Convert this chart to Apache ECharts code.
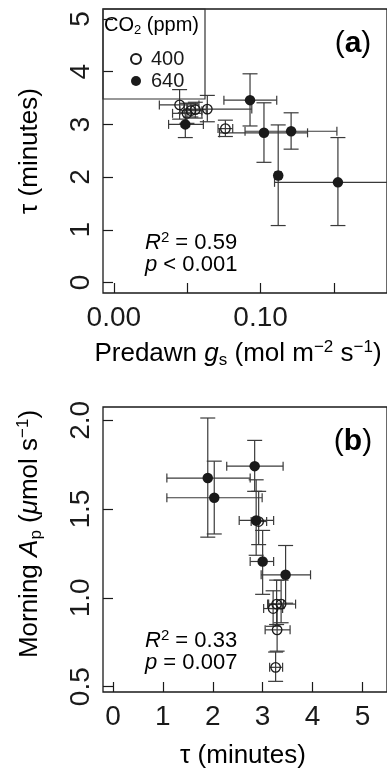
<!DOCTYPE html>
<html>
<head>
<meta charset="utf-8">
<script src="https://cdn.jsdelivr.net/npm/echarts@6/dist/echarts.min.js"></script>
<style>
  html, body { margin: 0; padding: 0; background: #fff; }
  #chart { width: 387px; height: 774px; }
</style>
</head>
<body>
<div id="chart"></div>
<script>
// ---------- data ----------
// CO2 = 400 ppm (open circles)
const open_gs      = [0.0448, 0.0498, 0.0525, 0.0555, 0.0637, 0.0760];
const open_gsLo    = [0.031, 0.040, 0.045, 0.048, 0.050, 0.071];
const open_gsHi    = [0.058, 0.060, 0.060, 0.063, 0.094, 0.081];
const open_tau     = [3.37, 3.21, 3.26, 3.28, 3.29, 2.92];
const open_tauLo   = [3.10, 3.02, 3.14, 3.12, 3.05, 2.77];
const open_tauHi   = [3.66, 3.40, 3.40, 3.42, 3.55, 3.08];
const open_Ap      = [0.965, 0.94, 0.609, 0.965, 0.82, 1.43];
const open_ApLo    = [0.86, 0.84, 0.53, 0.85, 0.70, 1.30];
const open_ApHi    = [1.10, 1.04, 0.695, 1.10, 0.94, 1.60];
// CO2 = 640 ppm (filled circles)
const fill_gs      = [0.0487, 0.0928, 0.1023, 0.1208, 0.1120, 0.1527];
const fill_gsLo    = [0.0373, 0.075, 0.072, 0.0894, 0.110, 0.1095];
const fill_gsHi    = [0.061, 0.111, 0.132, 0.152, 0.114, 0.196];
const fill_tau     = [3.00, 3.46, 2.84, 2.87, 2.03, 1.90];
const fill_tauLo   = [2.75, 2.97, 2.28, 2.53, 1.08, 1.08];
const fill_tauHi   = [3.22, 3.96, 3.41, 3.22, 2.99, 2.75];
const fill_Ap      = [1.205, 1.13, 1.742, 1.436, 1.564, 1.675];
const fill_ApLo    = [1.02, 0.97, 1.60, 1.24, 1.36, 1.342];
const fill_ApHi    = [1.38, 1.295, 1.887, 1.665, 1.77, 2.013];
// ticks
const gsTicks      = [0, 0.05, 0.10, 0.15];
const gsLabels     = [0, 0.10];
const tauTicks     = [0, 1, 2, 3, 4, 5];
const ApTicks      = [0.5, 1.0, 1.5, 2.0];
const seriesNames  = ['400', '640'];

// ---------- helpers ----------
const FF = '"Liberation Sans", Arial, Helvetica, sans-serif';
const INK = '#1a1a1a';
const BAR = '#3a3a3a';

function zip(xs, ys, xl, xh, yl, yh) {
  return xs.map((x, i) => [x, ys[i], xl[i], xh[i], yl[i], yh[i]]);
}
function pts(xs, ys) { return xs.map((x, i) => [x, ys[i]]); }

function errRender(params, api) {
  const x = api.value(0), y = api.value(1);
  const xl = api.value(2), xh = api.value(3), yl = api.value(4), yh = api.value(5);
  const a = api.coord([xl, y]), b = api.coord([xh, y]);
  const c = api.coord([x, yl]), d = api.coord([x, yh]);
  const st = { stroke: BAR, lineWidth: 1.2 };
  const hc = 4.5, vc = 7.5;
  const L = (x1, y1, x2, y2) => ({ type: 'line', shape: { x1, y1, x2, y2 }, style: st });
  return {
    type: 'group',
    children: [
      L(a[0], a[1], b[0], b[1]),
      L(a[0], a[1] - hc, a[0], a[1] + hc),
      L(b[0], b[1] - hc, b[0], b[1] + hc),
      L(c[0], c[1], d[0], d[1]),
      L(c[0] - vc, c[1], c[0] + vc, c[1]),
      L(d[0] - vc, d[1], d[0] + vc, d[1])
    ]
  };
}

const tickStyle = { show: true, inside: true, length: 10, lineStyle: { color: INK, width: 1.2 } };

function xAxisCfg(gridIndex, min, max, ticks, labels, fmt) {
  return {
    type: 'value', gridIndex, min, max,
    axisLine: { show: false, onZero: false },
    splitLine: { show: false },
    axisTick: Object.assign({ customValues: ticks }, tickStyle),
    axisLabel: { customValues: labels, formatter: fmt, fontSize: 28, fontFamily: FF, color: INK, margin: 11 }
  };
}
function yAxisCfg(gridIndex, min, max, ticks, fmt) {
  return {
    type: 'value', gridIndex, min, max,
    axisLine: { show: false, onZero: false },
    splitLine: { show: false },
    axisTick: Object.assign({ customValues: ticks }, tickStyle),
    axisLabel: { customValues: ticks, formatter: fmt, rotate: 90, fontSize: 28, fontFamily: FF, color: INK, margin: 8 }
  };
}

const rich = {
  n:   { fontSize: 26, fontFamily: FF, color: INK, lineHeight: 30 },
  i:   { fontSize: 26, fontFamily: FF, color: INK, fontStyle: 'italic', lineHeight: 30 },
  sup: { fontSize: 17, fontFamily: FF, color: INK, verticalAlign: 'top' },
  sub: { fontSize: 17, fontFamily: FF, color: INK, verticalAlign: 'bottom' },
  s:   { fontSize: 22, fontFamily: FF, color: INK, lineHeight: 26 },
  si:  { fontSize: 22, fontFamily: FF, color: INK, fontStyle: 'italic', lineHeight: 26 },
  ssup:{ fontSize: 15, fontFamily: FF, color: INK, verticalAlign: 'top' },
  b:   { fontSize: 30, fontFamily: FF, color: INK, fontWeight: 'bold', lineHeight: 34 },
  p:   { fontSize: 30, fontFamily: FF, color: INK, lineHeight: 34 },
  l:   { fontSize: 20, fontFamily: FF, color: INK, lineHeight: 23 },
  lsub:{ fontSize: 13, fontFamily: FF, color: INK, verticalAlign: 'bottom' }
};

function txt(x, y, text, opts) {
  return Object.assign({
    type: 'text', x, y, silent: true,
    style: Object.assign({ text, rich, align: 'center', verticalAlign: 'middle' }, (opts && opts.style) || {})
  }, (opts && opts.el) || {});
}

const option = {
  backgroundColor: '#fff',
  animation: false,
  grid: [
    { left: 103, top: 9, width: 300, height: 284, show: true, borderColor: INK, borderWidth: 1.3, backgroundColor: 'transparent' },
    { left: 103, top: 407, width: 300, height: 285, show: true, borderColor: INK, borderWidth: 1.3, backgroundColor: 'transparent' }
  ],
  xAxis: [
    xAxisCfg(0, -0.0074, -0.0074 + 300 / 1550, gsTicks, gsLabels, v => v.toFixed(2)),
    xAxisCfg(1, -0.2, -0.2 + 300 / 52.7, tauTicks, tauTicks, v => String(v))
  ],
  yAxis: [
    yAxisCfg(0, -0.2, 5.19, tauTicks, v => String(v)),
    yAxisCfg(1, 0.47, 2.075, ApTicks, v => v.toFixed(1))
  ],
  legend: {
    data: seriesNames,
    orient: 'vertical',
    left: 125, top: 44,
    itemWidth: 20, itemHeight: 10, itemGap: 2,
    textStyle: { fontSize: 20, fontFamily: FF, color: INK },
    selectedMode: false
  },
  series: [
    { type: 'custom', name: 'err400a', xAxisIndex: 0, yAxisIndex: 0, renderItem: errRender, clip: true, z: 1,
      encode: { x: 0, y: 1 }, data: zip(open_gs, open_tau, open_gsLo, open_gsHi, open_tauLo, open_tauHi) },
    { type: 'custom', name: 'err640a', xAxisIndex: 0, yAxisIndex: 0, renderItem: errRender, clip: true, z: 1,
      encode: { x: 0, y: 1 }, data: zip(fill_gs, fill_tau, fill_gsLo, fill_gsHi, fill_tauLo, fill_tauHi) },
    { type: 'custom', name: 'err400b', xAxisIndex: 1, yAxisIndex: 1, renderItem: errRender, clip: true, z: 1,
      encode: { x: 0, y: 1 }, data: zip(open_tau, open_Ap, open_tauLo, open_tauHi, open_ApLo, open_ApHi) },
    { type: 'custom', name: 'err640b', xAxisIndex: 1, yAxisIndex: 1, renderItem: errRender, clip: true, z: 1,
      encode: { x: 0, y: 1 }, data: zip(fill_tau, fill_Ap, fill_tauLo, fill_tauHi, fill_ApLo, fill_ApHi) },

    { type: 'scatter', name: '400', xAxisIndex: 0, yAxisIndex: 0, symbol: 'circle', symbolSize: 9.5, z: 3,
      itemStyle: { color: 'rgba(255,255,255,0)', borderColor: INK, borderWidth: 1.3, opacity: 1 },
      data: pts(open_gs, open_tau) },
    { type: 'scatter', name: '640', xAxisIndex: 0, yAxisIndex: 0, symbol: 'circle', symbolSize: 10.5, z: 3,
      itemStyle: { color: INK, opacity: 1 },
      data: pts(fill_gs, fill_tau) },
    { type: 'scatter', name: '400', xAxisIndex: 1, yAxisIndex: 1, symbol: 'circle', symbolSize: 9.5, z: 3,
      itemStyle: { color: 'rgba(255,255,255,0)', borderColor: INK, borderWidth: 1.3, opacity: 1 },
      data: pts(open_tau, open_Ap) },
    { type: 'scatter', name: '640', xAxisIndex: 1, yAxisIndex: 1, symbol: 'circle', symbolSize: 10.5, z: 3,
      itemStyle: { color: INK, opacity: 1 },
      data: pts(fill_tau, fill_Ap) }
  ],
  graphic: [
    // legend box
    { type: 'rect', shape: { x: 103, y: 9, width: 102, height: 90 }, style: { fill: 'none', stroke: '#333', lineWidth: 1.2 }, silent: true, z: 5 },
    txt(104, 25, '{l|CO}{lsub|2}{l| (ppm)}', { style: { align: 'left' } }),
    // panel labels
    txt(353, 44, '{p|(}{b|a}{p|)}'),
    txt(353, 442, '{p|(}{b|b}{p|)}'),
    // stats panel a
    txt(145, 243, '{si|R}{ssup|2}{s| = 0.59}', { style: { align: 'left' } }),
    txt(145, 265, '{si|p}{s| < 0.001}', { style: { align: 'left' } }),
    // stats panel b
    txt(145, 641, '{si|R}{ssup|2}{s| = 0.33}', { style: { align: 'left' } }),
    txt(145, 663, '{si|p}{s| = 0.007}', { style: { align: 'left' } }),
    // axis titles
    txt(238, 354, '{n|Predawn }{i|g}{sub|s}{n| (mol m}{sup|−2}{n| s}{sup|−1}{n|)}'),
    txt(30, 151, '{n|τ (minutes)}', { el: { rotation: Math.PI / 2 } }),
    txt(30, 534, '{n|Morning }{i|A}{sub|p}{n| (}{i|μ}{n|mol s}{sup|−1}{n|)}', { el: { rotation: Math.PI / 2 } }),
    txt(243, 756, '{n|τ (minutes)}')
  ]
};

const chart = echarts.init(document.getElementById('chart'), null, { renderer: 'canvas' });
chart.setOption(option);
</script>
</body>
</html>
